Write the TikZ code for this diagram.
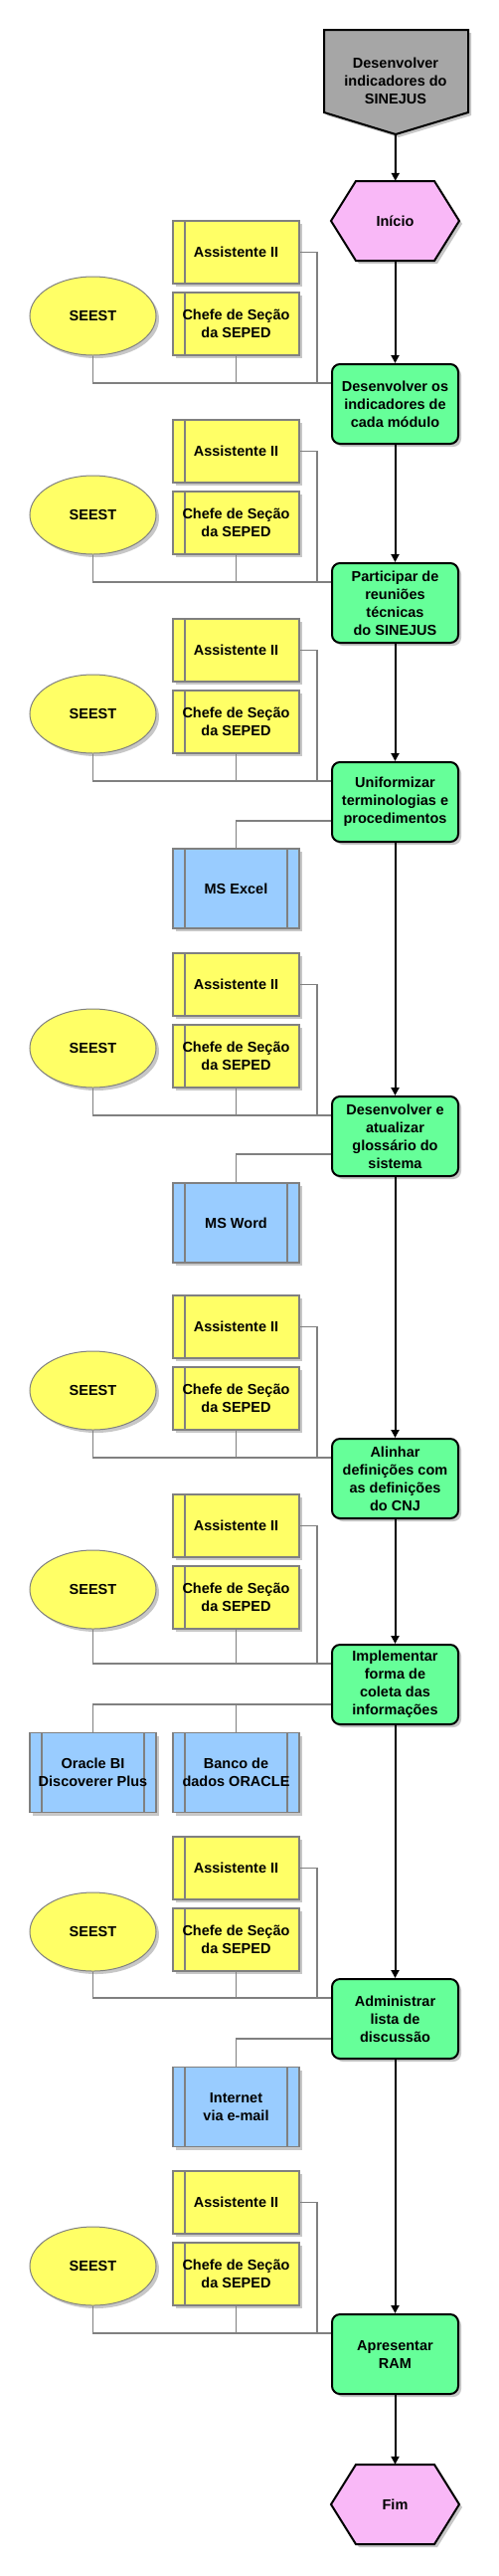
\documentclass[tikz,border=0pt]{standalone}
\usepackage{fontspec}
\setmainfont{Liberation Sans}
\usetikzlibrary{shapes.geometric,shadows,arrows.meta}

\definecolor{evtpink}{HTML}{F9B8F7}
\definecolor{fngreen}{HTML}{66FF99}
\definecolor{orgyellow}{HTML}{FFFF66}
\definecolor{appblue}{HTML}{99CCFF}
\definecolor{goalgray}{HTML}{A6A6A6}
\definecolor{linkgray}{HTML}{808080}

\tikzset{
  dropsh/.style={drop shadow={shadow xshift=3pt,shadow yshift=-3pt,fill=black!22,opacity=1}},
  lbl/.style={font=\bfseries\fontsize{14.5}{18}\selectfont, align=center, inner sep=0pt},
  fnbox/.style={lbl, rectangle, rounded corners=8pt, draw=black, line width=2pt, fill=fngreen, dropsh,
    minimum width=127pt, minimum height=80pt},
  evtnode/.style={lbl, minimum width=129pt, minimum height=80pt},
  evtshape/.style={draw=black, line width=2pt, fill=evtpink, dropsh},
  goalshape/.style={draw=black, line width=2pt, fill=goalgray, dropsh},
  orgbox/.style={lbl, rectangle, draw=linkgray, line width=1.5pt, fill=orgyellow, dropsh,
    minimum width=127pt, minimum height=63pt,
    path picture={\draw[linkgray, line width=1.5pt]
      ([xshift=12pt]path picture bounding box.north west) -- ([xshift=12pt]path picture bounding box.south west);}},
  unitbox/.style={lbl, ellipse, draw=linkgray, line width=1pt, fill=orgyellow, dropsh,
    minimum width=127pt, minimum height=79pt},
  appbox/.style={lbl, rectangle, draw=linkgray, line width=1.5pt, fill=appblue, dropsh,
    minimum width=127pt, minimum height=80pt,
    path picture={\draw[linkgray, line width=1.5pt]
      ([xshift=12pt]path picture bounding box.north west) -- ([xshift=12pt]path picture bounding box.south west)
      ([xshift=-12pt]path picture bounding box.north east) -- ([xshift=-12pt]path picture bounding box.south east);}},
  conn/.style={draw=linkgray, line width=1.5pt},
  arrowflow/.style={draw=black, line width=2pt, -{Triangle[width=8pt,length=8pt]}},
}

\begin{document}
\begin{tikzpicture}[x=1pt,y=-1pt]
\useasboundingbox (0,0) rectangle (501,2589);

% objetivo e evento inicial
\draw[goalshape] (326,30) -- (471,30) -- (471,113) -- (398,135) -- (326,113) -- cycle;
\node[lbl] (goal) at (398,81) {Desenvolver\\indicadores do\\SINEJUS};
\coordinate (goaltip) at (398,135);
\draw[evtshape] (333,222) -- (358,182) -- (437,182) -- (462,222) -- (437,262) -- (358,262) -- cycle;
\node[evtnode] (start) at (397.5,222) {Início};

% funcoes
\node[fnbox] (t1) at (397.5,406) {Desenvolver os\\indicadores de\\cada módulo};
\node[fnbox] (t2) at (397.5,606) {Participar de\\reuniões\\técnicas\\do SINEJUS};
\node[fnbox] (t3) at (397.5,806) {Uniformizar\\terminologias e\\procedimentos};
\node[fnbox] (t4) at (397.5,1142) {Desenvolver e\\atualizar\\glossário do\\sistema};
\node[fnbox] (t5) at (397.5,1486) {Alinhar\\definições com\\as definições\\do CNJ};
\node[fnbox] (t6) at (397.5,1693) {Implementar\\forma de\\coleta das\\informações};
\node[fnbox] (t7) at (397.5,2029) {Administrar\\lista de\\discussão};
\node[fnbox] (t8) at (397.5,2366) {Apresentar\\RAM};

% evento final
\draw[evtshape] (333,2517) -- (358,2477) -- (437,2477) -- (462,2517) -- (437,2557) -- (358,2557) -- cycle;
\node[evtnode] (fim) at (397.5,2517) {Fim};

% fluxo
\draw[arrowflow] (goaltip) -- (start);
\draw[arrowflow] (start) -- (t1);
\foreach \a/\b in {t1/t2,t2/t3,t3/t4,t4/t5,t5/t6,t6/t7,t7/t8,t8/fim}
  \draw[arrowflow] (\a) -- (\b);

% unidades e cargos
\foreach \i/\ya in {1/222,2/422,3/622,4/958,5/1302,6/1502,7/1846,8/2182}{
  \coordinate (j\i) at ([yshift=-20pt]t\i.north west);
  \node[orgbox] (as\i) at (237.5,\ya+31.5) {Assistente II};
  \node[orgbox] (ch\i) at (237.5,\ya+103.5) {Chefe de Seção\\da SEPED};
  \node[unitbox] (se\i) at (93.5,\ya+95.5) {SEEST};
  \draw[conn] (se\i.south) |- (j\i);
  \draw[conn] (ch\i.south) -- (ch\i.south |- j\i);
  \draw[conn] (as\i.east) -- ++(17,0) |- (j\i);
}

% sistemas
\node[appbox] (excel) at (237.5,893) {MS Excel};
\node[appbox] (word) at (237.5,1229) {MS Word};
\node[appbox] (oracle) at (93.5,1781.5) {Oracle BI\\Discoverer Plus};
\node[appbox] (banco) at (237.5,1781.5) {Banco de\\dados ORACLE};
\node[appbox] (inet) at (237.5,2117.5) {Internet\\via e-mail};
\draw[conn] ([yshift=-60pt]t3.north west) -| (excel);
\draw[conn] ([yshift=-59pt]t4.north west) -| (word);
\draw[conn] ([yshift=-61pt]t6.north west) -| (oracle);
\draw[conn] ([yshift=-61pt]t6.north west) -| (banco);
\draw[conn] ([yshift=-61pt]t7.north west) -| (inet);
\end{tikzpicture}
\end{document}
